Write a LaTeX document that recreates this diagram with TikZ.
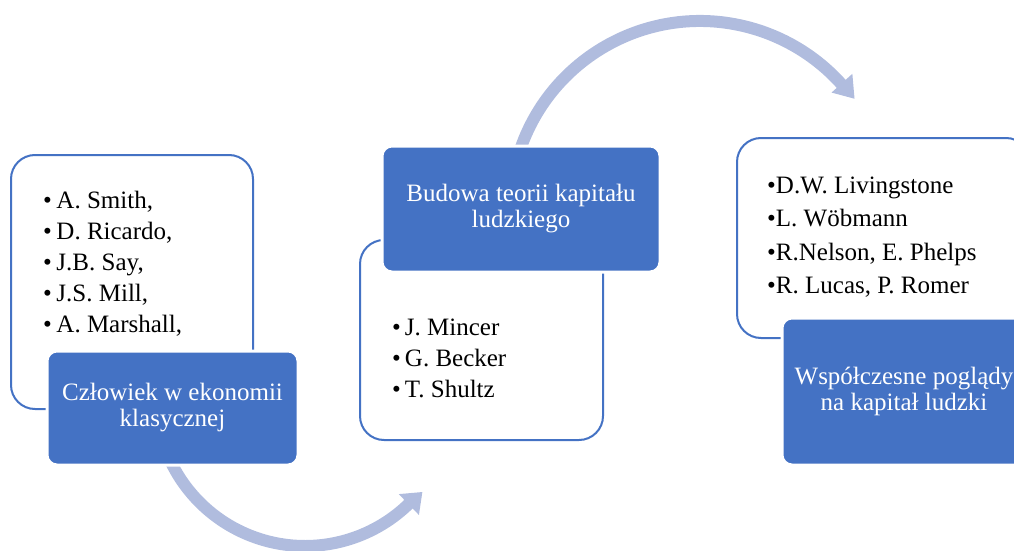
\documentclass[tikz,border=0pt]{standalone}
\usepackage{fontspec}
\setmainfont{Liberation Serif}
\usetikzlibrary{calc}
\definecolor{accent}{HTML}{4472C4}
\definecolor{arrowtint}{HTML}{B0BCDE}

\begin{document}
\begin{tikzpicture}[x=1pt,y=-1pt,
  listbox/.style={draw=accent, line width=2pt, fill=white, rounded corners=24pt, inner sep=0pt},
  titlebox/.style={fill=accent, draw=white, line width=3pt, rounded corners=10pt,
    text=white, align=center, inner sep=0pt, font=\fontsize{25}{26}\selectfont},
  item/.style={anchor=base west, inner sep=0pt, font=\fontsize{25}{30}\selectfont},
  band/.style={draw=arrowtint, line width=12pt},
  head/.style={fill=arrowtint}]

\useasboundingbox (0,0) rectangle (1014,551);
\clip (0,0) rectangle (1014,551);

% curved arrows behind the boxes
\coordinate (cb) at (305,397);
\draw[band] ($(cb)+(160:149)$) arc[start angle=160, end angle=45, radius=149];
\fill[head] ($(cb)+(46:135)$) -- ($(cb)+(39:151)$) -- ($(cb)+(46:164)$) -- cycle;

\coordinate (ct) at (700,211);
\draw[band] ($(ct)+(-165:190)$) arc[start angle=-165, end angle=-41, radius=190];
\fill[head] ($(ct)+(-42:177)$) -- ($(ct)+(-36:191)$) -- ($(ct)+(-42:205)$) -- cycle;

% stage 1
\node[listbox, minimum width=242pt, minimum height=254pt] (l1) at (132,282) {};
\node[item] (a1) at (43,208) {\textbullet\hspace{4.5pt}A. Smith,};
\node[item] (a2) at (43,239) {\textbullet\hspace{4.5pt}D. Ricardo,};
\node[item] (a3) at (43,270) {\textbullet\hspace{4.5pt}J.B. Say,};
\node[item] (a4) at (43,301) {\textbullet\hspace{4.5pt}J.S. Mill,};
\node[item] (a5) at (43,332) {\textbullet\hspace{4.5pt}A. Marshall,};
\node[titlebox, minimum width=251pt, minimum height=114pt] (t1) at (172.5,408)
  {Człowiek w ekonomii\\klasycznej};

% stage 2
\node[listbox, minimum width=243pt, minimum height=200pt] (l2) at (481.5,340) {};
\node[item] (b1) at (392,335) {\textbullet\hspace{4pt}J. Mincer};
\node[item] (b2) at (392,366) {\textbullet\hspace{4pt}G. Becker};
\node[item] (b3) at (392,397) {\textbullet\hspace{4pt}T. Shultz};
\node[titlebox, minimum width=278pt, minimum height=126pt] (t2) at (521,209)
  {Budowa teorii kapitału\\ludzkiego};

% stage 3
\node[listbox, minimum width=293pt, minimum height=200pt] (l3) at (883.5,238) {};
\node[item] (c1) at (767,193) {\textbullet D.W. Livingstone};
\node[item] (c2) at (767,226) {\textbullet L. Wöbmann};
\node[item] (c3) at (767,260) {\textbullet R.Nelson, E. Phelps};
\node[item] (c4) at (767,293) {\textbullet R. Lucas, P. Romer};
\node[titlebox, minimum width=244pt, minimum height=147pt] (t3) at (904,391.5)
  {Współczesne poglądy\\na kapitał ludzki};
\end{tikzpicture}
\end{document}
